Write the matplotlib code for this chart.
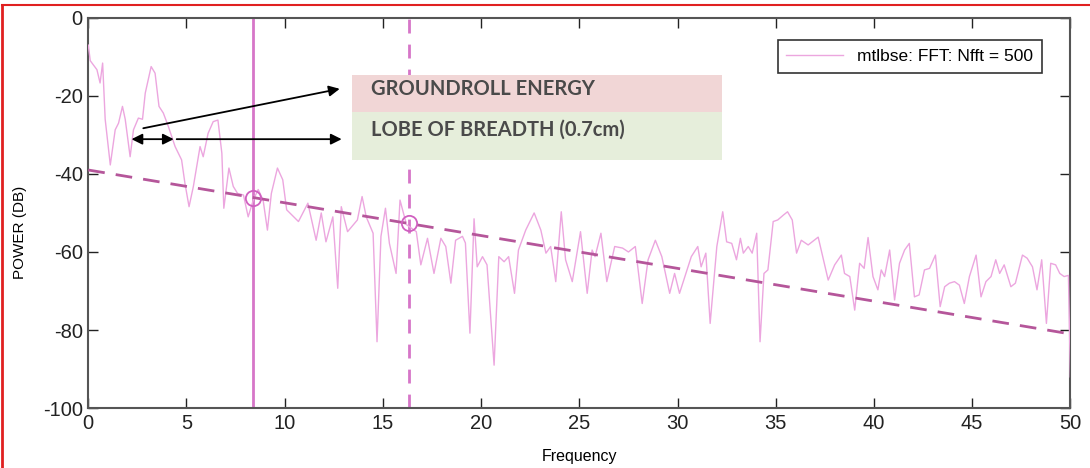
import matplotlib
matplotlib.use("Agg")
import matplotlib.pyplot as plt
from matplotlib.patches import Rectangle
from matplotlib.lines import Line2D

plt.rcParams['font.family'] = ['Liberation Sans', 'DejaVu Sans']
plt.rcParams['axes.unicode_minus'] = False

# Power spectrum (multitaper FFT, Nfft = 500)
freq = [0.0, 0.1, 0.44, 0.6, 0.73, 0.86, 1.12, 1.37, 1.54, 1.74, 1.88, 2.13, 2.3, 2.55,
        2.76, 2.9, 3.2, 3.4, 3.6, 3.82, 4.08, 4.42, 4.75, 4.92, 5.13, 5.35, 5.69, 5.85,
        6.1, 6.36, 6.6, 6.8, 6.9, 7.16, 7.38, 7.6, 7.9, 8.14, 8.4, 8.65, 8.9, 9.12, 9.32,
        9.63, 9.9, 10.1, 10.7, 11.18, 11.6, 11.86, 12.1, 12.45, 12.7, 12.88, 13.2, 13.7,
        13.94, 14.15, 14.5, 14.7, 14.9, 15.13, 15.33, 15.67, 15.87, 16.2, 16.7, 16.93,
        17.27, 17.6, 17.95, 18.2, 18.46, 18.7, 19.05, 19.2, 19.43, 19.64, 19.8, 20.07,
        20.3, 20.66, 20.9, 21.17, 21.4, 21.7, 21.9, 22.27, 22.7, 23.04, 23.3, 23.54, 23.8,
        24.08, 24.3, 24.64, 25.06, 25.4, 25.65, 25.8, 26.1, 26.4, 26.8, 27.2, 27.5, 27.85,
        28.2, 28.5, 28.87, 29.2, 29.6, 29.85, 30.1, 30.4, 30.7, 31.03, 31.2, 31.44, 31.66,
        32.0, 32.3, 32.5, 32.76, 33.0, 33.2, 33.35, 33.6, 33.8, 34.03, 34.2, 34.4, 34.6,
        34.87, 35.1, 35.4, 35.6, 35.84, 36.06, 36.3, 36.65, 37.16, 37.67, 38.0, 38.34,
        38.5, 38.77, 39.02, 39.27, 39.5, 39.7, 39.95, 40.2, 40.37, 40.54, 40.8, 41.05,
        41.3, 41.56, 41.8, 42.06, 42.3, 42.57, 42.83, 43.13, 43.37, 43.6, 43.84, 44.1,
        44.35, 44.6, 44.86, 45.2, 45.45, 45.7, 45.96, 46.2, 46.4, 46.63, 46.97, 47.2,
        47.56, 47.8, 48.07, 48.3, 48.54, 48.78, 49.0, 49.25, 49.46, 49.68, 49.9, 50.0]
power = [-7, -11, -13.3, -16.7, -11.6, -26, -37.7, -28.7, -27, -22.7, -26, -35.6, -28.7, -25.7,
         -26, -19.3, -12.5, -14.2, -22.7, -24.4, -27.9, -33, -36.4, -42.4, -48.4, -43.2, -33, -35.6,
         -29.6, -26.6, -26.2, -34.7, -48.8, -38.5, -43.2, -45, -45.4, -51, -46.7, -44, -46.7, -54.4, -45,
         -38.5, -41.5, -49.2, -52.2, -47.5, -57, -50, -57.4, -51, -69.3, -48.4, -54.8, -51.8,
         -45.8, -51, -55.2, -83, -56, -48.8, -57.8, -65.5, -46.7, -53, -54.8, -63.3,
         -56.5, -65.5, -56.5, -58.6, -68, -57, -56, -57.7, -80.8, -51.5, -63.8, -61.2,
         -63.3, -89, -61.2, -62.5, -61.2, -70.6, -59.5, -54.4, -50, -54.4, -60.3, -58.6, -67.6,
         -49.7, -62, -67.6, -54.8, -70.6, -59.5, -61.2, -55.2, -67.6, -58.6, -59, -60, -58.6,
         -73.2, -62, -57, -61.2, -70.6, -65.5, -70.6, -65.9, -61.2, -58.6, -63.8, -60.3, -78.3,
         -58.6, -49.7, -57.4, -57.8, -62, -56.5, -60.3, -58.6, -60.3, -55.2, -83, -65.5, -64.6,
         -52.2, -51.8, -50.5, -49.7, -51.8, -60.3, -57, -58.2, -56.2, -67.2, -63.3, -60.8,
         -65.5, -66.3, -74.9, -62.9, -64.2, -56.3, -66.3, -69.7, -64.6, -66.3, -59.5, -72.3,
         -62.9, -59.5, -57.8, -71.5, -71, -64.6, -64.2, -60.8, -74, -68.9, -68, -67.6,
         -68.5, -73.2, -66.3, -60.8, -71.5, -67.6, -66.3, -62, -65.5, -63.3, -68.9, -68,
         -60.8, -61.6, -63.8, -69.7, -62, -78.3, -62.9, -63.3, -65.5, -66.3, -66, -92]

# Decay trend line and the two marked frequencies
trend_freq = [0, 50]
trend_power = [-39, -81]
marker_freq = [8.4, 16.35]
marker_power = [-46.1, -52.7]

fig = plt.figure(figsize=(10.9, 4.68), dpi=100)
ax = fig.add_axes([0.081, 0.128, 0.901, 0.834])

ax.plot(freq, power, color='#eca6df', lw=1.0, label='mtlbse: FFT: Nfft = 500', zorder=3)
ax.plot(trend_freq, trend_power, color='#b5569a', lw=2, ls=(0, (6, 4)), zorder=4)
ax.axvline(marker_freq[0], color='#d676c8', lw=2, zorder=2)
ax.axvline(marker_freq[1], color='#d676c8', lw=2, ls=(0, (5, 4)), zorder=2)
ax.plot(marker_freq, marker_power, 'o', mfc='none', mec='#d060c0', ms=11, mew=1.3, zorder=5)

ax.set_xlim(0, 50)
ax.set_ylim(-100, 0)
ax.set_xticks(range(0, 51, 5))
ax.set_yticks(range(-100, 1, 20))
ax.tick_params(direction='in', length=7, width=1, top=True, right=True,
               labelsize=14.5, colors='#222222', pad=4)
for s in ax.spines.values():
    s.set_color('#555555')
    s.set_linewidth(1.5)
ax.set_xlabel('Frequency', fontsize=11.5, labelpad=12)
ax.set_ylabel('POWER (DB)', fontsize=11)
ax.yaxis.set_label_coords(-0.062, 0.45)

# annotation boxes
ax.add_patch(Rectangle((13.45, -24.1), 18.8, 9.5, facecolor='#f1d6d6', edgecolor='none', zorder=6))
ax.add_patch(Rectangle((13.45, -36.4), 18.8, 12.3, facecolor='#e6eedb', edgecolor='none', zorder=6))
ax.text(14.4, -18.3, 'GROUNDROLL ENERGY', fontsize=14.5, fontweight='bold',
        family=['Lato', 'DejaVu Sans'], color='#4a4a4a', va='center', zorder=7)
ax.text(14.4, -28.6, 'LOBE OF BREADTH (0.7cm)', fontsize=14.5, fontweight='bold',
        family=['Lato', 'DejaVu Sans'], color='#4a4a4a', va='center', zorder=7)

arrow = dict(arrowstyle='-|>', color='black', lw=1.3, mutation_scale=16, shrinkA=0, shrinkB=0)
ax.annotate('', xy=(12.8, -18.2), xytext=(2.8, -28.3), arrowprops=arrow, zorder=7)
ax.annotate('', xy=(12.9, -31.1), xytext=(4.5, -31.1), arrowprops=arrow, zorder=7)
ax.annotate('', xy=(4.35, -31.1), xytext=(2.2, -31.1),
            arrowprops=dict(arrowstyle='<|-|>', color='black', lw=1.3, mutation_scale=16,
                            shrinkA=0, shrinkB=0), zorder=7)

leg = ax.legend(loc='upper right', bbox_to_anchor=(0.98, 0.965), fontsize=12.5,
                handlelength=3.3, fancybox=False, framealpha=1, borderpad=0.5,
                edgecolor='#333333')
leg.get_frame().set_linewidth(1.2)

# red outline of the figure
fig.add_artist(Line2D([0.002, 0.002], [0, 0.99], color='#e02020', lw=2, transform=fig.transFigure))
fig.add_artist(Line2D([0.002, 1.0], [0.99, 0.99], color='#e02020', lw=1.5, transform=fig.transFigure))

fig.savefig('out.png', dpi=100)
